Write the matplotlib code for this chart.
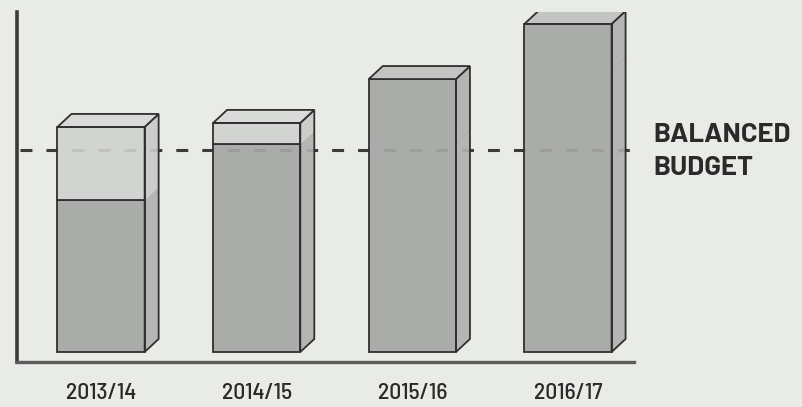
import matplotlib
matplotlib.use("Agg")
import matplotlib.pyplot as plt
from matplotlib.patches import Polygon
import numpy as np

# ---- data (balanced budget = 100) ----
years = ["2013/14", "2014/15", "2015/16", "2016/17"]
base_part = [75.2, 103.0, 135.1, 162.4]      # darker lower section
top_part = [36.2, 10.4, 0.0, 0.0]            # lighter upper section
faint_bands = [[], [], [103.5], [95.0, 139.6]]
balanced_budget = 100.0
label_lines = ["BALANCED", "BUDGET"]

# ---- style ----
BG = "#e9ebe7"
DARK = "#aaaca9"
LIGHT = "#d2d4d1"
SIDE_DARK = "#b4b6b3"
SIDE_LIGHT = "#cbcdca"
TOP_DARK = "#c3c5c2"
TOP_LIGHT = "#d9dbd8"
EDGE = "#2f2f2f"
TICK_FONT = ["Barlow Semi Condensed", "DejaVu Sans"]
NOTE_FONT = ["Barlow", "Barlow Semi Condensed", "DejaVu Sans"]

W, H = 802, 407
fig = plt.figure(figsize=(W / 100, H / 100), dpi=100, facecolor=BG)
ax = fig.add_axes([17 / W, (H - 362) / H, (634 - 17) / W, (362 - 12) / H])
ax.set_facecolor(BG)

x = np.arange(len(years))
ax.set_xlim(-0.54, 3.424)
ax.set_ylim(-4.95, 168.3)
width = 0.56

# depth offsets in data units from pixel offsets
p0 = ax.transData.transform((0, 0))
d = ax.transData.inverted().transform(p0 + np.array([14, 13]))
dx, dy = d[0], d[1]

# dashed balanced budget line (behind bars)
dash = (0, (3.9, 4.6))
ax.plot([-0.52, 3.424], [balanced_budget] * 2, color="#3a3a3a", lw=2.2,
        linestyle=dash, zorder=1, solid_capstyle="butt")

for i, xi in enumerate(x):
    b = base_part[i]
    t = top_part[i]
    total = b + t
    xl, xr = xi - width / 2, xi + width / 2
    ax.add_patch(Polygon([(xr, 0), (xr + dx, dy), (xr + dx, b + dy), (xr, b)],
                         closed=True, facecolor=SIDE_DARK, edgecolor="none", zorder=2))
    if t > 0:
        ax.add_patch(Polygon([(xr, b), (xr + dx, b + dy), (xr + dx, total + dy), (xr, total)],
                             closed=True, facecolor=SIDE_LIGHT, edgecolor="none", zorder=2))
    ax.add_patch(Polygon([(xr, 0), (xr + dx, dy), (xr + dx, total + dy), (xr, total)],
                         closed=True, facecolor="none", edgecolor=EDGE, lw=1.3, zorder=4))
    ax.add_patch(Polygon([(xl, total), (xl + dx, total + dy), (xr + dx, total + dy), (xr, total)],
                         closed=True, facecolor=TOP_LIGHT if t > 0 else TOP_DARK,
                         edgecolor=EDGE, lw=1.3, zorder=4))
    for fb in faint_bands[i]:
        ax.plot([xl, xr], [fb, fb], color="#989a97", lw=1.0, alpha=0.5, zorder=3)
        ax.plot([xr, xr + dx], [fb, fb + dy], color="#a3a5a2", lw=1.0, alpha=0.4, zorder=3)

ax.bar(x, base_part, width=width, color=DARK, edgecolor=EDGE, lw=1.3, zorder=3)
light_idx = [i for i in range(len(years)) if top_part[i] > 0]
ax.bar(x[light_idx], [top_part[i] for i in light_idx], width=width,
       bottom=[base_part[i] for i in light_idx], color=LIGHT, edgecolor=EDGE, lw=1.3, zorder=3)

# faint dashes showing through light sections
ax.plot([-0.52, 3.424], [balanced_budget] * 2, color="#3a3a3a", lw=2.2,
        linestyle=dash, zorder=3.5, alpha=0.12)

# axes
for s in ["top", "right"]:
    ax.spines[s].set_visible(False)
ax.spines["left"].set_linewidth(2.6)
ax.spines["left"].set_color("#3a3a3a")
ax.spines["bottom"].set_linewidth(2.4)
ax.spines["bottom"].set_color("#5c5c5c")
ax.set_yticks([])
ax.set_xticks(x)
ax.set_xticklabels(years, fontfamily=TICK_FONT, fontsize=17, fontweight=500, color="#2a2a2a")
ax.tick_params(axis="x", length=0, pad=15)

fig.text(653 / W, 1 - 142 / H, label_lines[0], ha="left", va="baseline",
         fontsize=19.8, fontweight="bold", family=NOTE_FONT, color="#2a2a2a")
fig.text(653 / W, 1 - 175 / H, label_lines[1], ha="left", va="baseline",
         fontsize=19.8, fontweight="bold", family=NOTE_FONT, color="#2a2a2a")

fig.savefig("out.png", dpi=100, facecolor=BG)
